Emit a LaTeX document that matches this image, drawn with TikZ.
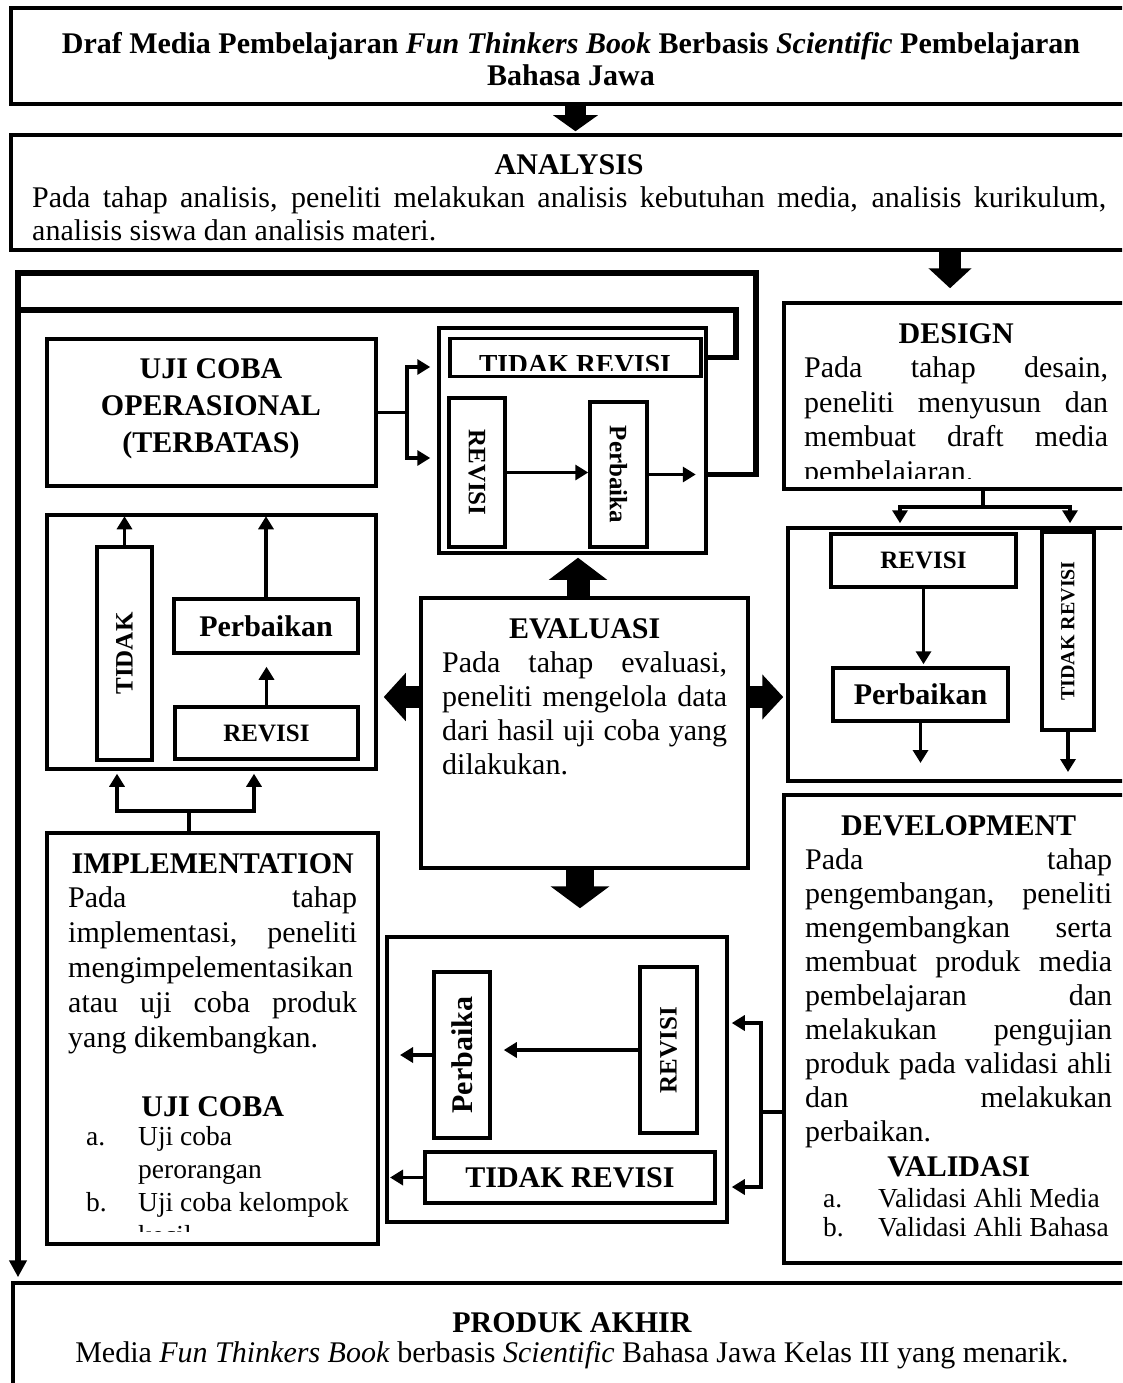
\documentclass[tikz,border=0pt]{standalone}
\usepackage{fontspec}
\setmainfont{Liberation Serif}
\usetikzlibrary{arrows.meta,fit}
\newcommand\fsz[2]{\fontsize{#1}{#2}\selectfont}
\newcommand\nsp{\spaceskip=0pt\xspaceskip=0pt\relax}
\newcommand\jl[1]{\makebox[\hsize][s]{\nsp #1}}
\newcommand\cl[1]{\makebox[\hsize][c]{\nsp #1}}
\begin{document}
\begin{tikzpicture}[x=1pt,y=-1pt,
  box/.style={draw, line width=3.5pt, inner sep=0pt},
  ln/.style={line width=3.5pt},
  arr/.style={line width=3.5pt, -{Triangle[length=13pt,width=15pt]}},
  loopln/.style={line width=5.5pt},
  para/.style={inner sep=0pt, align=left, anchor=base west},
  ctr/.style={inner sep=0pt, align=left, anchor=base},
  lbl/.style={inner sep=0pt, font=\fsz{#1}{#1}\bfseries},
]
\useasboundingbox (0,0) rectangle (1122,1383);
\clip (0,0) rectangle (1122,1383);

% ---------- boxes ----------
\node[box, fit={(11,8) (1140,104)}] (top) {};
\node[box, fit={(11,135) (1140,250)}] (analysis) {};
\node[box, fit={(784,303) (1140,489)}] (design) {};
\node[box, fit={(47,339) (376,486)}] (uji) {};
\node[box, fit={(439,328) (706,553)}] (cont1) {};
\node[box, fit={(450,338.5) (701,376.5)}] (tr1) {};
\node[box, fit={(449,398) (505,547)}] (rv1) {};
\node[box, fit={(590,402) (647,547)}] (pb1) {};
\node[box, fit={(788,528) (1140,781)}] (cont2) {};
\node[box, fit={(831,534) (1016,587)}] (rv2) {};
\node[box, fit={(833,668) (1008,721)}] (pb2) {};
\node[box, fit={(1042,532) (1094,730)}] (tr2) {};
\node[box, fit={(47,515) (376,769)}] (cont3) {};
\node[box, fit={(97,547) (152,760)}] (td3) {};
\node[box, fit={(174,599) (358,653)}] (pb3) {};
\node[box, fit={(175,707) (358,759)}] (rv3) {};
\node[box, fit={(421,598) (748,868)}] (eval) {};
\node[box, fit={(47,833) (378,1244)}] (impl) {};
\node[box, fit={(387,937) (727,1222)}] (cont4) {};
\node[box, fit={(434,972) (490,1138)}] (pb4) {};
\node[box, fit={(640,967) (697,1133)}] (rv4) {};
\node[box, fit={(425,1152) (715,1203)}] (tr4) {};
\node[box, fit={(784,795) (1140,1263)}] (dev) {};
\node[box, fit={(13,1283) (1140,1420)}] (produk) {};

% ---------- box labels ----------
\node[lbl=25] (rv2t) at (rv2.center) {REVISI};
\node[lbl=30] (pb2t) at (pb2.center) {Perbaikan};
\node[lbl=30] (pb3t) at (pb3.center) {Perbaikan};
\node[lbl=25] (rv3t) at (rv3.center) {REVISI};
\node[lbl=30] (tr4t) at (tr4.center) {\nsp TIDAK REVISI};
\node[lbl=25, rotate=-90] (rv1t) at (rv1.center) {REVISI};
\node[lbl=25, rotate=-90] (pb1t) at (pb1.center) {Perbaika};
\node[lbl=25, rotate=90] (td3t) at (td3.center) {TIDAK};
\node[lbl=20, rotate=90] (tr2t) at (tr2.center) {\nsp TIDAK REVISI};
\node[lbl=30, rotate=90] (pb4t) at (pb4.center) {Perbaika};
\node[lbl=25, rotate=90] (rv4t) at (rv4.center) {REVISI};

\begin{scope}
\clip (452,341) rectangle (699,370);
\node[inner sep=0pt, anchor=base, font=\fsz{27.5}{27.5}\bfseries] (tr1t) at (575,373) {\nsp TIDAK REVISI};
\end{scope}

% ---------- texts ----------
\node[ctr, text width=1100pt, font=\fsz{30}{32}\bfseries] (toptx) at (571,54)
  {\cl{Draf Media Pembelajaran \textit{Fun Thinkers Book} Berbasis \textit{Scientific} Pembelajaran}\\
   \cl{Bahasa Jawa}};

\node[para, text width=1074pt, font=\fsz{30}{33}] (antx) at (32,175)
  {\cl{\bfseries ANALYSIS}\\
   \jl{Pada tahap analisis, peneliti melakukan analisis kebutuhan media, analisis kurikulum,}\\
   \nsp analisis siswa dan analisis materi.};

\node[ctr, text width=320pt, font=\fsz{30}{37}\bfseries] (ujitx) at (211,378)
  {\cl{UJI COBA}\\\cl{OPERASIONAL}\\\cl{(TERBATAS)}};

\begin{scope}
\clip (786,305) rectangle (1122,478);
\node[para, text width=304pt, font=\fsz{30}{34.5}] (dstx) at (804,343)
  {\cl{\bfseries DESIGN}\\
   \jl{Pada tahap desain,}\\
   \jl{peneliti menyusun dan}\\
   \jl{membuat draft media}\\
   pembelajaran.};
\end{scope}

\node[para, text width=285pt, font=\fsz{30}{34}] (evtx) at (442,638)
  {\cl{\bfseries EVALUASI}\\
   \jl{Pada tahap evaluasi,}\\
   \jl{peneliti mengelola data}\\
   \jl{dari hasil uji coba yang}\\
   dilakukan.};

\begin{scope}
\clip (49,835) rectangle (376,1231);
\node[para, text width=289pt, font=\fsz{30}{34.8}] (imtx) at (68,873)
  {\cl{\bfseries IMPLEMENTATION}\\
   \jl{Pada tahap}\\
   \jl{implementasi, peneliti}\\
   \jl{mengimpelementasikan}\\
   \jl{atau uji coba produk}\\
   \nsp yang dikembangkan.\\
   \mbox{}\\
   \cl{\bfseries UJI COBA}};
\node[para, text width=289pt, font=\fsz{27.5}{33.3}] (imls) at (68,1145)
  {\nsp\hspace*{18pt}\makebox[52pt][l]{a.}Uji coba\\
   \hspace*{70pt}perorangan\\
   \hspace*{18pt}\makebox[52pt][l]{b.}Uji coba kelompok\\
   \hspace*{70pt}kecil};
\end{scope}

\node[para, text width=307pt, font=\fsz{30}{34.1}] (dvtx) at (805,835)
  {\cl{\bfseries DEVELOPMENT}\\
   \jl{Pada tahap}\\
   \jl{pengembangan, peneliti}\\
   \jl{mengembangkan serta}\\
   \jl{membuat produk media}\\
   \jl{pembelajaran dan}\\
   \jl{melakukan pengujian}\\
   \jl{produk pada validasi ahli}\\
   \jl{dan melakukan}\\
   perbaikan.\\
   \cl{\bfseries VALIDASI}};
\node[para, text width=330pt, font=\fsz{27.5}{29}] (dvls) at (805,1207)
  {\nsp\hspace*{18pt}\makebox[55pt][l]{a.}Validasi Ahli Media\\
   \hspace*{18pt}\makebox[55pt][l]{b.}Validasi Ahli Bahasa};

\node[ctr, text width=1100pt, font=\fsz{30}{30}] (prtx) at (572,1332)
  {\cl{\bfseries PRODUK AKHIR}\\
   \cl{Media \textit{Fun Thinkers Book} berbasis \textit{Scientific} Bahasa Jawa Kelas III yang menarik.}};

% ---------- coordinates ----------
\coordinate (dA) at (950,0);
\coordinate (eU) at (578,0);
\coordinate (eA) at (0,697);
\coordinate (eD) at (580,0);
\coordinate (ubt) at (407,367);
\coordinate (ubb) at (407,458);
\coordinate (lp1) at (756,273);
\coordinate (lp0) at (18,273);
\coordinate (lp2) at (736,310);
\coordinate (dsp) at (983,507);
\coordinate (dl) at (900,507);
\coordinate (dr) at (1070,507);
\coordinate (pb2e) at (920.5,763);
\coordinate (tr2e) at (1068,772);
\coordinate (dv) at (761,1112);
\coordinate (dvt) at (761,1023);
\coordinate (dvb) at (761,1187);
\coordinate (pb4w) at (400,1055);
\coordinate (tr4w) at (390,1177.5);
\coordinate (ims) at (189,811);
\coordinate (iml) at (117,811);
\coordinate (imr) at (254,811);

% ---------- block arrows ----------
\draw[line width=21pt, -{Triangle[length=16pt,width=44pt]}, shorten >=2pt] (top.south) -- (top.south |- analysis.north);
\draw[line width=22pt, -{Triangle[length=20pt,width=42pt]}, shorten >=13pt] (dA |- analysis.south) -- (dA |- design.north);
\draw[line width=23pt, -{Triangle[length=22pt,width=57pt]}, shorten >=3pt] (eU |- eval.north) -- (eU |- cont1.south);
\draw[line width=22pt, -{Triangle[length=22pt,width=47pt]}, shorten >=6pt] (eval.west |- eA) -- (cont3.east |- eA);
\draw[line width=22pt, -{Triangle[length=21pt,width=44pt]}, shorten >=3pt] (eval.east |- eA) -- (cont2.west |- eA);
\draw[line width=28pt, -{Triangle[length=22pt,width=58pt]}, shorten >=27pt] (eD |- eval.south) -- (eD |- cont4.north);

% ---------- loop lines ----------
\draw[loopln, -{Triangle[length=17pt,width=17pt]}, shorten >=4pt]
  (pb1.east -| cont1.east) -| (lp1) -- (lp0) -- (lp0 |- produk.north);
\draw[loopln] (tr1.east -| cont1.east) -| (lp2) -- (lp2 -| lp0);

% ---------- thin connectors ----------
\draw[arr, shorten >=7pt] (uji.east) -| (ubt) -- (ubt -| cont1.west);
\draw[arr, shorten >=7pt] (uji.east) -| (ubb) -- (ubb -| cont1.west);
\draw[arr] (rv1.east) -- (rv1.east -| pb1.west);
\draw[arr, shorten >=12pt] (pb1.east) -- (pb1.east -| cont1.east);

\draw[arr, shorten >=3pt] (dsp |- design.south) -- (dsp) -- (dl) -- (dl |- cont2.north);
\draw[arr, shorten >=3pt] (dsp) -- (dr) -- (dr |- cont2.north);
\draw[arr, shorten >=2pt] (rv2.south) -- (rv2.south |- pb2.north);
\draw[arr] (pb2.south) -- (pb2e);
\draw[arr] (tr2.south) -- (tr2e);

\draw[arr, shorten >=3pt] (dev.west |- dv) -- (dv) -- (dvt) -- (dvt -| cont4.east);
\draw[arr, shorten >=3pt] (dv) -- (dvb) -- (dvb -| cont4.east);
\draw[arr, shorten >=12pt] (rv4.west) -- (rv4.west -| pb4.east);
\draw[arr] (pb4.west) -- (pb4w);
\draw[arr] (tr4.west) -- (tr4w);

\draw[arr, shorten >=3pt] (ims |- impl.north) -- (ims) -- (iml) -- (iml |- cont3.south);
\draw[arr, shorten >=3pt] (ims) -- (imr) -- (imr |- cont3.south);
\draw[arr, shorten >=12pt] (rv3.north) -- (rv3.north |- pb3.south);
\draw[arr, shorten >=3pt] (pb3.north) -- (pb3.north |- cont3.north);
\draw[arr, shorten >=3pt] (td3.north) -- (td3.north |- cont3.north);
\end{tikzpicture}
\end{document}
